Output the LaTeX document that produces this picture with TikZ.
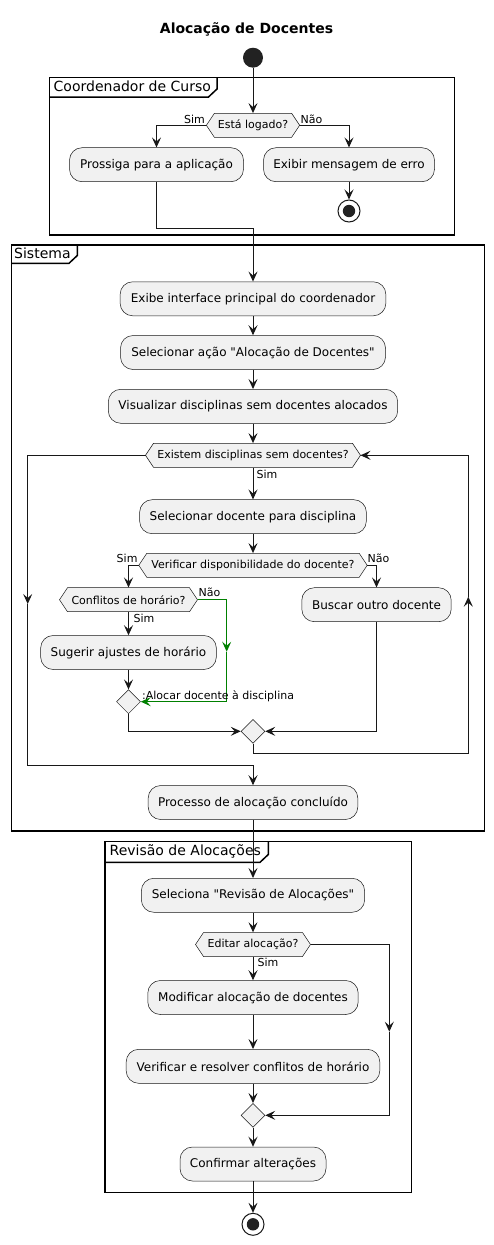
\documentclass[tikz,border=0pt]{standalone}
\usepackage{fontspec}
\setmainfont{DejaVu Sans}[Ligatures=TeXOff]
\usetikzlibrary{arrows.meta,shapes.geometric,calc}
\definecolor{ln}{HTML}{181818}
\definecolor{bx}{HTML}{F1F1F1}
\definecolor{dot}{HTML}{222222}
\definecolor{gr}{HTML}{008000}
\tikzset{
 tip/.tip={Stealth[length=10pt,width=9pt,inset=4pt]},
 conn/.style={draw=ln, line width=1pt, -tip},
 gconn/.style={draw=gr, line width=1pt, -tip},
 act/.style={draw=ln, line width=0.5pt, fill=bx, rounded corners=12.5pt, minimum height=34pt, inner sep=0pt, font=\fontsize{12}{14}\selectfont},
 hexbox/.style={draw=ln, line width=0.5pt, fill=bx},
 hext/.style={inner sep=0pt, minimum height=24pt, font=\fontsize{11}{13}\selectfont},
 merge/.style={diamond, draw=ln, line width=0.5pt, fill=bx, minimum width=24pt, minimum height=24pt, inner sep=0pt},
 lbl/.style={font=\fontsize{11}{13}\selectfont, inner sep=0pt},
 frame/.style={draw=black, line width=1.5pt},
 ftitle/.style={font=\fontsize{14}{16}\selectfont, inner sep=0pt, anchor=base west},
 startdot/.style={circle, fill=dot, minimum size=20pt, inner sep=0pt},
 stopdot/.style={circle, draw=ln, line width=1pt, fill=white, minimum size=22pt, inner sep=0pt},
}
\newcommand\hexnode[5]{%
  \path[hexbox] ({#2-#4/2},#3) -- ({#2-#4/2+8},{#3-12}) -- ({#2+#4/2-8},{#3-12}) -- ({#2+#4/2},#3) -- ({#2+#4/2-8},{#3+12}) -- ({#2-#4/2+8},{#3+12}) -- cycle;
  \node[hext, minimum width=#4pt-16pt] (#1) at (#2,#3) {#5};
  \coordinate (#1-l) at ({#2-#4/2},#3);
  \coordinate (#1-r) at ({#2+#4/2},#3);
}
\begin{document}
\begin{tikzpicture}[x=1pt,y=-1pt]
\useasboundingbox[fill=white] (0,0) rectangle (494,1245);

% title
\node[font=\bfseries\fontsize{14}{16}\selectfont, anchor=base, inner sep=0pt] (title) at (246.5,33) {Alocação de Docentes};

% frames
\draw[frame] (49.3,77.7) rectangle (454.3,235);
\draw[frame] (49.3,97) -- (208.5,97) -- (217,89) -- (217,77.7);
\node[ftitle] (f1) at (53.5,91.2) {Coordenador de Curso};

\draw[frame] (11.7,245) rectangle (484.3,831);
\draw[frame] (11.7,263.3) -- (69,263.3) -- (77.3,255.5) -- (77.3,245);
\node[ftitle] (f2) at (14,258.5) {Sistema};

\draw[frame] (105,841.7) rectangle (411.7,1192.7);
\draw[frame] (105,862.3) -- (260,862.3) -- (268.3,854.5) -- (268.3,841.7);
\node[ftitle] (f3) at (109.5,855.2) {Revisão de Alocações};

% nodes
\node[startdot] (start) at (253,57.7) {};
\hexnode{logado}{253}{125.3}{93.3}{Está logado?}
\node[act, minimum width=174pt] (pros) at (156.5,164.7) {Prossiga para a aplicação};
\node[act, minimum width=171pt] (erro) at (349,164.7) {Exibir mensagem de erro};
\node[stopdot] (stop1) at (349,211) {};
\fill[dot] (stop1) circle (6.2pt);

\node[act, minimum width=265.7pt] (exibe) at (253,298.8) {Exibe interface principal do coordenador};
\node[act, minimum width=265pt] (selacao) at (253,352.5) {Selecionar ação "Alocação de Docentes"};
\node[act, minimum width=289.4pt] (visual) at (253,406.3) {Visualizar disciplinas sem docentes alocados};
\hexnode{exist}{253}{455.3}{215}{Existem disciplinas sem docentes?}
\node[act, minimum width=226.7pt] (seldoc) at (253,516.7) {Selecionar docente para disciplina};
\hexnode{verif}{253}{565.3}{228.4}{Verificar disponibilidade do docente?}
\hexnode{confl}{128.5}{599.7}{138}{Conflitos de horário?}
\node[act, minimum width=149.4pt] (busc) at (376.5,604.7) {Buscar outro docente};
\node[act, minimum width=175.7pt] (sug) at (128.5,652.5) {Sugerir ajustes de horário};
\node[merge] (m1) at (128.5,701.7) {};
\node[merge] (m2) at (253,731.3) {};
\node[act, minimum width=209.6pt] (proc) at (253,802.5) {Processo de alocação concluído};

\node[act, minimum width=223.3pt] (selrev) at (253,895.3) {Seleciona "Revisão de Alocações"};
\hexnode{edit}{253}{944.5}{115}{Editar alocação?}
\node[act, minimum width=210.4pt] (modif) at (253,997.5) {Modificar alocação de docentes};
\node[act, minimum width=253.6pt] (verres) at (253,1066.3) {Verificar e resolver conflitos de horário};
\node[merge] (m3) at (253,1115.3) {};
\node[act, minimum width=146pt] (conf) at (253,1164) {Confirmar alterações};
\node[stopdot] (stop2) at (253,1224.3) {};
\fill[dot] (stop2) circle (6.2pt);

% helper coordinates
\coordinate (j1) at (253,228.7);
\coordinate (g1) at (226.7,651.7);
\coordinate (r0) at (253,753.3);
\coordinate (r1) at (468.3,596.7);
\coordinate (l1) at (27.7,604);
\coordinate (l2) at (253,765.7);
\coordinate (e1) at (389.3,1031.7);

% connectors
\draw[conn] (start) -- (logado.north);
\draw[conn] (logado-l) -| (pros.north);
\draw[conn] (logado-r) -| (erro.north);
\draw[conn] (erro.south) -- (stop1.north);
\draw[conn] (pros.south) |- (j1) -- (exibe.north);
\draw[conn] (exibe.south) -- (selacao.north);
\draw[conn] (selacao.south) -- (visual.north);
\draw[conn] (visual.south) -- (exist.north);
\draw[conn] (exist.south) -- (seldoc.north);
\draw[conn] (seldoc.south) -- (verif.north);
\draw[conn] (verif-l) -| (confl.north);
\draw[conn] (verif-r) -| (busc.north);
\draw[conn] (confl.south) -- (sug.north);
\draw[conn] (sug.south) -- (m1.north);
\draw[gconn] (confl-r) -| (g1);
\draw[gconn] (g1) |- (m1.east);
\draw[conn] (m1.south) |- (m2.west);
\draw[conn] (busc.south) |- (m2.east);
\draw[conn] (m2.south) -- (r0) -| (r1);
\draw[conn] (r1) |- (exist-r);
\draw[conn] (exist-l) -| (l1);
\draw[conn] (l1) |- (l2) -- (proc.north);
\draw[conn] (proc.south) -- (selrev.north);
\draw[conn] (selrev.south) -- (edit.north);
\draw[conn] (edit.south) -- (modif.north);
\draw[conn] (modif.south) -- (verres.north);
\draw[conn] (verres.south) -- (m3.north);
\draw[conn] (edit-r) -| (e1);
\draw[conn] (e1) |- (m3.east);
\draw[conn] (m3.south) -- (conf.north);
\draw[conn] (conf.south) -- (stop2.north);

% labels
\node[lbl, anchor=base east] (s1) at (205,123.5) {Sim};
\node[lbl, anchor=base west] (n1) at (300.5,123.5) {Não};
\node[lbl, anchor=base west] (s2) at (256.5,478) {Sim};
\node[lbl, anchor=base east] (s3) at (137.7,562.7) {Sim};
\node[lbl, anchor=base west] (n3) at (367.5,562.7) {Não};
\node[lbl, anchor=base west] (n4) at (198.5,596.7) {Não};
\node[lbl, anchor=base west] (s4) at (133.5,622) {Sim};
\node[lbl, anchor=base west] (aloc) at (142,699) {:Alocar docente à disciplina};
\node[lbl, anchor=base west] (s5) at (257.5,966) {Sim};
\end{tikzpicture}
\end{document}
